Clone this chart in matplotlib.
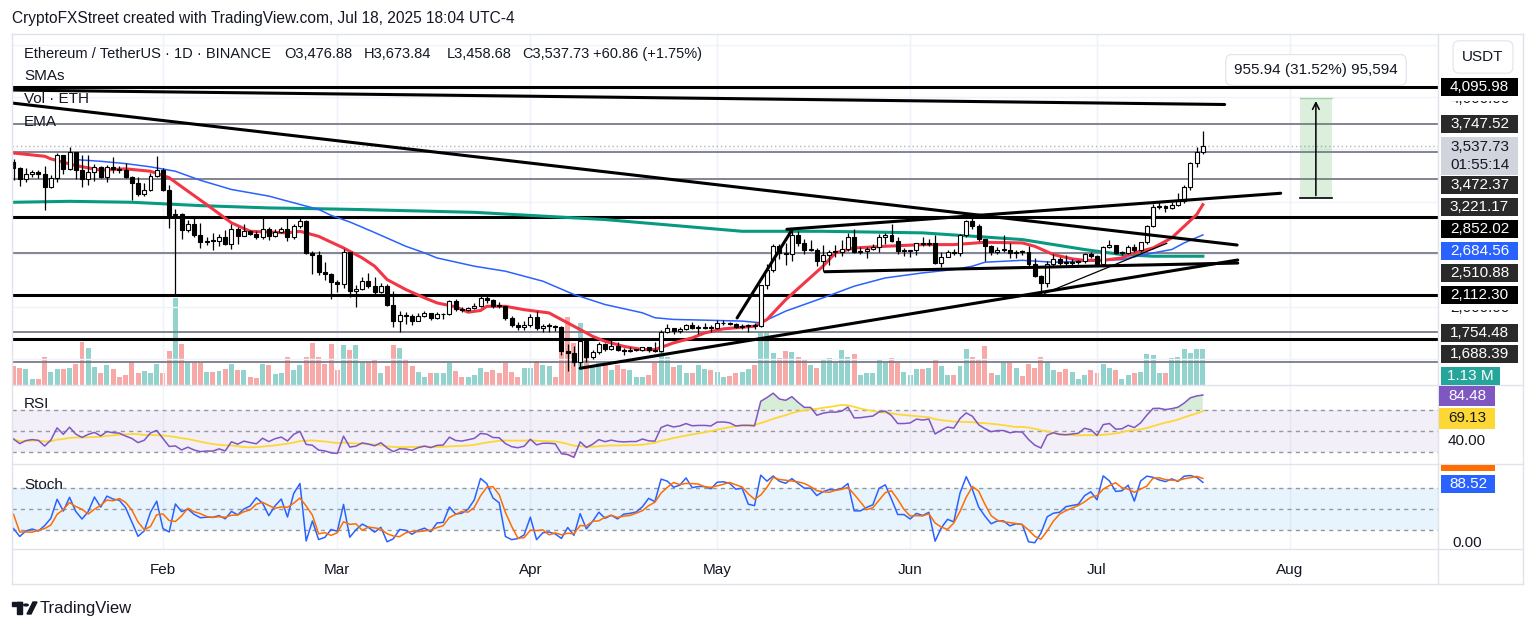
import numpy as np
import matplotlib.pyplot as plt
from matplotlib.patches import Rectangle, Polygon, Circle
from matplotlib.lines import Line2D

plt.rcParams['font.family'] = ['Liberation Sans', 'DejaVu Sans']

# ETH/USDT daily candles, index 0 = 2025-01-08, last = 2025-07-18
first_open = 3381.0
close = [3327, 3219, 3266, 3282, 3265, 3137, 3224, 3450, 3310, 3473, 3306, 3215, 3282, 3328, 3240, 3336, 3310, 3300, 3235, 3180, 3075, 3115, 3250, 3300,
         3115, 2870, 2880, 2735, 2785, 2685, 2620, 2630, 2628, 2660, 2600, 2740, 2675, 2725, 2690, 2660, 2745, 2670, 2715, 2740, 2660, 2765, 2815, 2515, 2490, 2335, 2307, 2237,
         2217, 2518, 2150, 2170, 2240, 2200, 2140, 2200, 2020, 1865, 1920, 1910, 1865, 1910, 1935, 1890, 1925, 1930, 2055, 1980, 1965, 1985, 2005, 2080, 2068, 2010, 2005, 1895, 1828, 1805, 1822,
         1905, 1795, 1815, 1815, 1805, 1580, 1555, 1470, 1670, 1520, 1570, 1645, 1595, 1620, 1590, 1580, 1585, 1585, 1615, 1585, 1580, 1755, 1795, 1770, 1785, 1820, 1795, 1800, 1800, 1795,
         1840, 1842, 1835, 1810, 1815, 1815, 1812, 2205, 2345, 2580, 2515, 2500, 2680, 2610, 2545, 2545, 2440, 2495, 2525, 2525, 2550, 2665, 2525, 2530, 2550, 2565, 2660, 2680, 2630, 2530, 2530,
         2540, 2605, 2595, 2610, 2420, 2475, 2525, 2510, 2680, 2815, 2770, 2645, 2580, 2525, 2545, 2545, 2510, 2525, 2520, 2405, 2295, 2230, 2410, 2450, 2420, 2415, 2425, 2435, 2505, 2485,
         2405, 2570, 2590, 2510, 2515, 2570, 2540, 2615, 2770, 2955, 2960, 2945, 2970, 3010, 3140, 3370, 3476.88, 3537.73]
high = [3413, 3336, 3323, 3300, 3300, 3340, 3259, 3470, 3450, 3525, 3475, 3450, 3450, 3360, 3345, 3350, 3425, 3345, 3370, 3250, 3240, 3180, 3280, 3440,
        3320, 3160, 2930, 2890, 2830, 2860, 2800, 2665, 2700, 2690, 2735, 2790, 2760, 2790, 2735, 2720, 2850, 2760, 2740, 2760, 2845, 2790, 2855, 2830, 2530, 2530, 2430, 2320,
        2250, 2550, 2525, 2210, 2280, 2320, 2280, 2230, 2215, 2150, 1960, 1950, 1925, 1940, 1955, 1940, 1950, 1935, 2065, 2070, 2000, 2000, 2030, 2100, 2105, 2075, 2040, 2010, 1915, 1850, 1860,
        1925, 1955, 1835, 1840, 1820, 1815, 1640, 1620, 1690, 1670, 1590, 1660, 1650, 1690, 1665, 1610, 1615, 1600, 1615, 1615, 1660, 1780, 1830, 1795, 1810, 1835, 1855, 1825, 1840, 1820,
        1875, 1870, 1850, 1845, 1835, 1830, 1845, 2210, 2410, 2600, 2600, 2610, 2740, 2725, 2650, 2640, 2560, 2590, 2540, 2585, 2640, 2700, 2740, 2570, 2570, 2600, 2690, 2700, 2790, 2660, 2560,
        2545, 2610, 2660, 2650, 2680, 2525, 2540, 2550, 2690, 2830, 2880, 2790, 2650, 2590, 2570, 2680, 2610, 2540, 2545, 2575, 2460, 2300, 2440, 2500, 2470, 2490, 2450, 2445, 2515, 2525,
        2490, 2580, 2640, 2590, 2530, 2585, 2600, 2620, 2780, 2980, 3010, 2970, 3000, 3080, 3160, 3385, 3520, 3673.84]
low = [3208, 3156, 3188, 3235, 3223, 2920, 3130, 3190, 3268, 3305, 3222, 3140, 3160, 3200, 3225, 3190, 3280, 3280, 3225, 3020, 3060, 3060, 3100, 3240,
       3100, 2750, 2125, 2650, 2710, 2665, 2560, 2590, 2540, 2580, 2590, 2550, 2600, 2670, 2680, 2650, 2650, 2640, 2660, 2700, 2625, 2650, 2750, 2500, 2310, 2300, 2250, 2075,
       2140, 2175, 2095, 1995, 2155, 2180, 2100, 2130, 2005, 1810, 1755, 1835, 1825, 1860, 1905, 1870, 1885, 1885, 1920, 1960, 1945, 1960, 1975, 2000, 2035, 1990, 1990, 1870, 1810, 1780, 1780,
       1805, 1775, 1760, 1755, 1765, 1535, 1385, 1435, 1410, 1470, 1505, 1545, 1575, 1590, 1580, 1540, 1565, 1575, 1580, 1565, 1570, 1570, 1745, 1735, 1750, 1775, 1790, 1740, 1785, 1755,
       1790, 1825, 1820, 1800, 1785, 1755, 1785, 1805, 2170, 2330, 2450, 2400, 2440, 2580, 2505, 2530, 2390, 2340, 2400, 2470, 2480, 2530, 2510, 2500, 2460, 2540, 2520, 2600, 2620, 2500, 2485,
       2470, 2495, 2580, 2580, 2405, 2380, 2470, 2490, 2480, 2665, 2745, 2630, 2440, 2490, 2500, 2520, 2460, 2460, 2490, 2390, 2285, 2110, 2190, 2380, 2400, 2400, 2380, 2410, 2420, 2460,
       2390, 2385, 2560, 2500, 2490, 2500, 2520, 2520, 2600, 2760, 2930, 2900, 2930, 2960, 2990, 3115, 3330, 3458.68]
# volume, thousand ETH
volume_k = [600, 530, 500, 190, 190, 880, 410, 500, 500, 530, 660, 1350, 1160, 570, 380, 630, 500, 250, 310, 750, 380, 440, 380, 660,
            380, 1070, 2730, 1290, 690, 690, 690, 410, 410, 440, 500, 660, 470, 470, 250, 220, 660, 630, 350, 380, 880, 470, 630, 880, 1320, 880, 660, 1290,
            470, 1260, 1100, 1260, 690, 690, 820, 380, 600, 1260, 1160, 820, 600, 410, 250, 380, 380, 380, 690, 440, 250, 250, 310, 530, 410, 470, 380, 690, 410, 250, 530,
            530, 750, 630, 600, 250, 1350, 2140, 1320, 1950, 1160, 570, 690, 690, 470, 630, 500, 470, 250, 250, 310, 690, 1190, 880, 570, 630, 380, 380, 630, 500, 470,
            410, 250, 280, 380, 410, 500, 630, 1630, 1630, 1000, 850, 1070, 1040, 880, 790, 630, 530, 820, 850, 690, 1100, 880, 970, 310, 380, 380, 820, 690, 850, 690, 410,
            310, 500, 500, 530, 820, 600, 310, 310, 600, 1130, 880, 790, 1220, 380, 310, 690, 690, 530, 280, 660, 530, 880, 720, 470, 410, 500, 410, 190, 310, 470,
            380, 660, 530, 470, 190, 310, 380, 410, 970, 940, 380, 380, 850, 880, 1130, 1000, 1130, 1130]

# Dec 24 - Jan 7, only used to warm up RSI / Stoch
warm_close = [3490, 3485, 3330, 3330, 3395, 3350, 3360, 3335, 3355, 3450, 3610, 3655, 3635, 3690, 3381]
warm_high = [3495, 3515, 3480, 3435, 3415, 3405, 3430, 3430, 3410, 3500, 3620, 3680, 3670, 3745, 3700]
warm_low = [3330, 3440, 3300, 3300, 3320, 3330, 3300, 3320, 3320, 3340, 3440, 3600, 3600, 3625, 3355]

month_idx = [24, 52, 83, 113, 144, 174, 205]
month_lbl = ['Feb', 'Mar', 'Apr', 'May', 'Jun', 'Jul', 'Aug']

# moving averages (day index, price)
ema_idx = [0, 5, 6, 10, 14, 18, 22, 25, 28, 31, 35, 38, 44, 46, 49, 53, 56, 58, 60, 63, 66, 68, 71, 73, 75, 76, 79, 82, 86, 87, 90, 93, 95, 98, 101,
           103, 106, 109, 111, 114, 119, 121, 124, 127, 130, 132, 135, 140, 146, 151, 156, 162, 164, 167, 170, 172, 175, 178, 180, 183, 186, 188, 190, 191]
ema_val = [3466, 3435, 3410, 3346, 3302, 3315, 3292, 3230, 3102, 2975, 2800, 2719, 2704, 2719, 2671, 2560, 2465, 2386, 2258, 2163, 2084, 2036, 1998, 1947,
           1963, 2003, 2003, 1971, 1940, 1908, 1813, 1717, 1669, 1621, 1590, 1590, 1654, 1702, 1749, 1788, 1813, 1877, 2066, 2226, 2386, 2513, 2560,
           2576, 2592, 2592, 2614, 2608, 2576, 2497, 2456, 2442, 2442, 2465, 2513, 2560, 2656, 2767, 2878, 2973]
sma_b_idx = [10, 14, 18, 22, 26, 30, 35, 41, 46, 49, 51, 54, 58, 63, 66, 68, 74, 79, 85, 90, 95, 101, 103, 106, 111, 117, 120, 124, 130, 135, 140,
             146, 151, 154, 156, 162, 167, 172, 178, 183, 186, 188, 191]
sma_b_val = [3403, 3387, 3365, 3334, 3292, 3206, 3118, 3055, 2975, 2928, 2871, 2808, 2707, 2576, 2513, 2465, 2386, 2338, 2243, 2116, 2020, 1941, 1894,
             1878, 1871, 1862, 1846, 1957, 2084, 2195, 2274, 2322, 2354, 2386, 2424, 2442, 2424, 2433, 2449, 2513, 2545, 2608, 2684.56]
sma_g_idx = [0, 9, 19, 30, 41, 51, 56, 74, 95, 117, 130, 146, 162, 172, 178, 183, 191]
sma_g_val = [2996, 3005, 2996, 2964, 2942, 2932, 2926, 2900, 2831, 2719, 2719, 2704, 2640, 2545, 2497, 2481, 2481]

# horizontal levels
levels_thick = [4095.98, 2852.02, 2112.30, 1688.39]
levels_thin = [3747.52, 3472.37, 3221.17, 2510.88, 1754.48, 1475.0]
last_price = 3537.73

# trend lines, ((day, price), (day, price))
trend_thick = [((-0.24, 4067), (194.5, 3929)),
               ((-0.24, 3943), (196.5, 2588)),
               ((124.2, 2738), (203.5, 3082)),
               ((116.2, 1892), (125.0, 2731)),
               ((130.3, 2333), (196.6, 2416)),
               ((91.0, 1412), (196.6, 2445))]
trend_thin = [((165.6, 2127), (185.2, 2604))]

measure_x = (206.6, 211.7)
measure_lo, measure_hi = 3032.8, 3988.7

title_parts = ['Ethereum / TetherUS · 1D · BINANCE', 'O3,476.88', 'H3,673.84', 'L3,458.68', 'C3,537.73', '+60.86 (+1.75%)']
title_x = [24, 284, 364, 447, 522, 593]

# ---------------------------------------------------------------
W, H = 1536, 631
PX_DAY, X0 = 6.227, 13.5
L, R = 12, 1438

n = len(close)
x = np.arange(n)
c = np.array(close, float)
hi = np.array(high, float)
lo = np.array(low, float)
o = np.concatenate([[first_open], c[:-1]])
up = c >= o

# RSI 14 (Wilder) and its 14 SMA
c_all = np.array(warm_close + close, float)
h_all = np.array(warm_high + high, float)
l_all = np.array(warm_low + low, float)
d = np.diff(c_all)
gain = np.clip(d, 0, None)
loss = np.clip(-d, 0, None)
ag, al = gain[:14].mean(), loss[:14].mean()
rsi = []
for k in range(14, len(d)):
    ag = (ag * 13 + gain[k]) / 14
    al = (al * 13 + loss[k]) / 14
    rsi.append(100 - 100 / (1 + ag / al))
rsi = np.array(rsi)
rsi_ma = np.array([rsi[max(0, i - 13):i + 1].mean() for i in range(n)])

# Stoch 14, 1, 3
kk = []
for g in range(13, len(c_all)):
    hh, ll = h_all[g - 13:g + 1].max(), l_all[g - 13:g + 1].min()
    kk.append(100 * (c_all[g] - ll) / (hh - ll))
kk = np.array(kk)
dd = np.array([kk[max(0, i - 2):i + 1].mean() for i in range(len(kk))])
stk = kk[-n:]
std = dd[-n:]

fig = plt.figure(figsize=(W / 100, H / 100), dpi=100)
fig.patch.set_facecolor('white')


def axrect(top, bot):
    return [L / W, 1 - bot / H, (R - L) / W, (bot - top) / H]


xlim = ((L - X0) / PX_DAY, (R - X0) / PX_DAY)

axv = fig.add_axes(axrect(35, 385))
ax = fig.add_axes(axrect(35, 385))
ax_r = fig.add_axes(axrect(385, 464))
ax_s = fig.add_axes(axrect(464, 549))
axv.set_zorder(0)
ax.set_zorder(1)
ax.patch.set_visible(False)

for a in (axv, ax, ax_r, ax_s):
    a.set_xlim(*xlim)
    a.set_xticks([])
    a.set_yticks([])
    for s in a.spines.values():
        s.set_visible(False)
    for m in month_idx:
        a.axvline(m, color='#f0f3fa', lw=1, zorder=0)

p_top = 4096 + 52 * 9.543
p_bot = 4096 - 298 * 9.543
ax.set_ylim(p_bot, p_top)
for lvl in (1500, 2000, 2500, 3000, 3500, 4000, 4500):
    ax.axhline(lvl, color='#f0f3fa', lw=1, zorder=0)

# volume
axv.set_ylim(0, 350 * 31.4)
axv.bar(x, volume_k, width=0.8, color=np.where(up, '#92d3cd', '#f7a9a7'), zorder=1)

# levels
for lv in levels_thin:
    ax.axhline(lv, color='#787b86', lw=1.3, zorder=2)
for lv in levels_thick:
    ax.axhline(lv, color='black', lw=2.2, zorder=2)
ax.axhline(last_price, color='#b2b5be', lw=1, ls=(0, (1, 2)), zorder=2)

# moving averages
ax.plot(sma_g_idx, sma_g_val, color='#089981', lw=2.2, zorder=3)
ax.plot(sma_b_idx, sma_b_val, color='#2962ff', lw=1.1, zorder=3)
ax.plot(ema_idx, ema_val, color='#f23645', lw=2.2, zorder=3)

# candles
ax.vlines(x, lo, hi, color='black', lw=0.9, zorder=4)
body_lo = np.minimum(o, c)
body_h = np.maximum(np.abs(c - o), 8)
ax.bar(x, body_h, bottom=body_lo, width=0.64, color=np.where(up, 'white', 'black'),
       edgecolor='black', linewidth=0.8, zorder=5)

# trend lines
for (x1, y1), (x2, y2) in trend_thick:
    ax.plot([x1, x2], [y1, y2], color='black', lw=2.2, zorder=6, solid_capstyle='round')
for (x1, y1), (x2, y2) in trend_thin:
    ax.plot([x1, x2], [y1, y2], color='black', lw=0.9, zorder=6)

# price range measurement
ax.add_patch(Rectangle((measure_x[0], measure_lo), measure_x[1] - measure_x[0], measure_hi - measure_lo,
                       facecolor='#4caf50', alpha=0.2, edgecolor='none', zorder=6))
ax.plot(measure_x, [measure_lo, measure_lo], color='black', lw=1.2, zorder=7)
ax.plot(measure_x, [measure_hi, measure_hi], color='#4caf50', lw=1, alpha=0.4, zorder=7)
xm = sum(measure_x) / 2
ax.annotate('', xy=(xm, measure_hi), xytext=(xm, measure_lo),
            arrowprops=dict(arrowstyle='->', color='black', lw=1.1, mutation_scale=12), zorder=7)
fig.text(1316 / W, 1 - 70 / H, '955.94 (31.52%) 95,594', ha='center', va='center', fontsize=11, color='#131722',
         bbox=dict(boxstyle='round,pad=0.55,rounding_size=0.4', fc='white', ec='#e0e3eb', lw=0.8), zorder=8)

# RSI pane
ax_r.set_ylim(50 - 33.15 / 1.0425, 50 + 45.85 / 1.0425)
ax_r.axhspan(30, 70, color='#7e57c2', alpha=0.09, lw=0, zorder=0)
for lv in (70, 50, 30):
    ax_r.axhline(lv, color='#9598a1', lw=1, ls=(0, (3, 3)), zorder=1)
ax_r.fill_between(x, rsi, 70, where=rsi > 70, interpolate=True, color='#4caf50', alpha=0.22, lw=0, zorder=2)
ax_r.fill_between(x, rsi, 30, where=rsi < 30, interpolate=True, color='#f23645', alpha=0.18, lw=0, zorder=2)
ax_r.plot(x, rsi_ma, color='#fdd835', lw=1.3, zorder=3)
ax_r.plot(x, rsi, color='#7e57c2', lw=1.1, zorder=4)

# Stoch pane
ax_s.set_ylim(50 - 39.85 / 0.695, 50 + 45.15 / 0.695)
ax_s.axhspan(20, 80, color='#2196f3', alpha=0.1, lw=0, zorder=0)
for lv in (80, 50, 20):
    ax_s.axhline(lv, color='#9598a1', lw=1, ls=(0, (3, 3)), zorder=1)
ax_s.plot(x, stk, color='#2962ff', lw=1.1, zorder=3)
ax_s.plot(x, std, color='#ff6d00', lw=1.1, zorder=4)
ax_s.set_xticks(month_idx)
ax_s.set_xticklabels(month_lbl, fontsize=11, color='#131722')
ax_s.tick_params(axis='x', length=0, pad=10)


# frame and separators
def hline_px(y, x0, x1, color='#e0e3eb', lw=1):
    fig.add_artist(Line2D([x0 / W, x1 / W], [1 - y / H, 1 - y / H], color=color, lw=lw, zorder=9))


def vline_px(xp, y0, y1, color='#e0e3eb', lw=1):
    fig.add_artist(Line2D([xp / W, xp / W], [1 - y0 / H, 1 - y1 / H], color=color, lw=lw, zorder=9))


for yy in (34, 385, 464, 549, 584):
    hline_px(yy, 12, 1523)
for xx in (12, 1438, 1523):
    vline_px(xx, 34, 584)

# texts
fig.text(12 / W, 1 - 18 / H, 'CryptoFXStreet created with TradingView.com, Jul 18, 2025 18:04 UTC-4',
         fontsize=11.2, color='#131722', va='center')
for t, xx in zip(title_parts, title_x):
    fig.text(xx / W, 1 - 54 / H, t, fontsize=10.5, color='#131722', va='center')
for yy, t in ((76, 'SMAs'), (99, 'Vol · ETH'), (122, 'EMA'), (404, 'RSI'), (485, 'Stoch')):
    fig.text(24 / W, 1 - yy / H, t, fontsize=11, color='#131722', va='center', zorder=1)

# axis prices mostly hidden behind the tags: only their lower edge shows
for yy, t in ((99, '4,000.00'), (308, '2,000.00')):
    tt = fig.text(1480 / W, 1 - yy / H, t, fontsize=11, color='#131722', ha='center', va='center', zorder=4)
    clip = Rectangle((1441 / W, 1 - (yy + 8) / H), 77 / W, 6 / H, transform=fig.transFigure)
    tt.set_clip_path(clip)


def tag(ypx, txt, bg, fg, x0=1441, x1=1518, h=18):
    fig.add_artist(Rectangle((x0 / W, 1 - (ypx + h / 2) / H), (x1 - x0) / W, h / H,
                             transform=fig.transFigure, facecolor=bg, edgecolor='none', zorder=10))
    if txt:
        fig.text((x0 + x1) / 2 / W, 1 - ypx / H, txt, fontsize=11, color=fg, ha='center', va='center', zorder=11)


tag(87, '4,095.98', '#000000', 'white')
tag(124, '3,747.52', '#2a2a2a', 'white')
fig.add_artist(Rectangle((1441 / W, 1 - 175 / H), 77 / W, 38 / H, transform=fig.transFigure,
                         facecolor='#d1d4dc', edgecolor='none', zorder=10))
fig.text(1480 / W, 1 - 147 / H, '3,537.73', fontsize=11, color='#131722', ha='center', va='center', zorder=11)
fig.text(1480 / W, 1 - 165 / H, '01:55:14', fontsize=11, color='#131722', ha='center', va='center', zorder=11)
tag(185, '3,472.37', '#2a2a2a', 'white')
tag(207, '3,221.17', '#2a2a2a', 'white')
tag(229, '2,852.02', '#000000', 'white')
tag(251, '2,684.56', '#2962ff', 'white')
tag(273, '2,510.88', '#2a2a2a', 'white')
tag(295, '2,112.30', '#000000', 'white')
tag(333, '1,754.48', '#2a2a2a', 'white')
tag(354, '1,688.39', '#2a2a2a', 'white')
tag(376, '1.13 M', '#26a69a', 'white', x1=1500)
tag(396, '84.48', '#7e57c2', 'white', x0=1439, x1=1495, h=20)
tag(418, '69.13', '#fdd835', '#131722', x0=1439, x1=1495, h=21)
fig.text(1467 / W, 1 - 441 / H, '40.00', fontsize=11, color='#131722', ha='center', va='center')
tag(468, '', '#ff6d00', 'white', x0=1441, x1=1495, h=6)
tag(484, '88.52', '#2962ff', 'white', x0=1441, x1=1495, h=18)
fig.text(1467 / W, 1 - 543 / H, '0.00', fontsize=11, color='#131722', ha='center', va='center')

fig.text(1483 / W, 1 - 57 / H, 'USDT', fontsize=11, color='#131722', ha='center', va='center',
         bbox=dict(boxstyle='round,pad=0.6,rounding_size=0.4', fc='white', ec='#e0e3eb', lw=0.8))

# TradingView logo
fig.add_artist(Rectangle((12 / W, 1 - 606 / H), 10 / W, 4 / H, transform=fig.transFigure, color='#131722'))
fig.add_artist(Rectangle((17 / W, 1 - 614 / H), 5 / W, 12 / H, transform=fig.transFigure, color='#131722'))
fig.add_artist(Circle((26 / W, 1 - 605 / H), 2.2 / W, transform=fig.transFigure, color='#131722'))
fig.add_artist(Polygon([(27 / W, 1 - 614 / H), (31 / W, 1 - 614 / H), (37 / W, 1 - 602 / H), (33 / W, 1 - 602 / H)],
                       closed=True, transform=fig.transFigure, color='#131722'))
fig.text(40 / W, 1 - 608 / H, 'TradingView', fontsize=12, color='#131722', va='center')

fig.savefig('out.png', dpi=100)
